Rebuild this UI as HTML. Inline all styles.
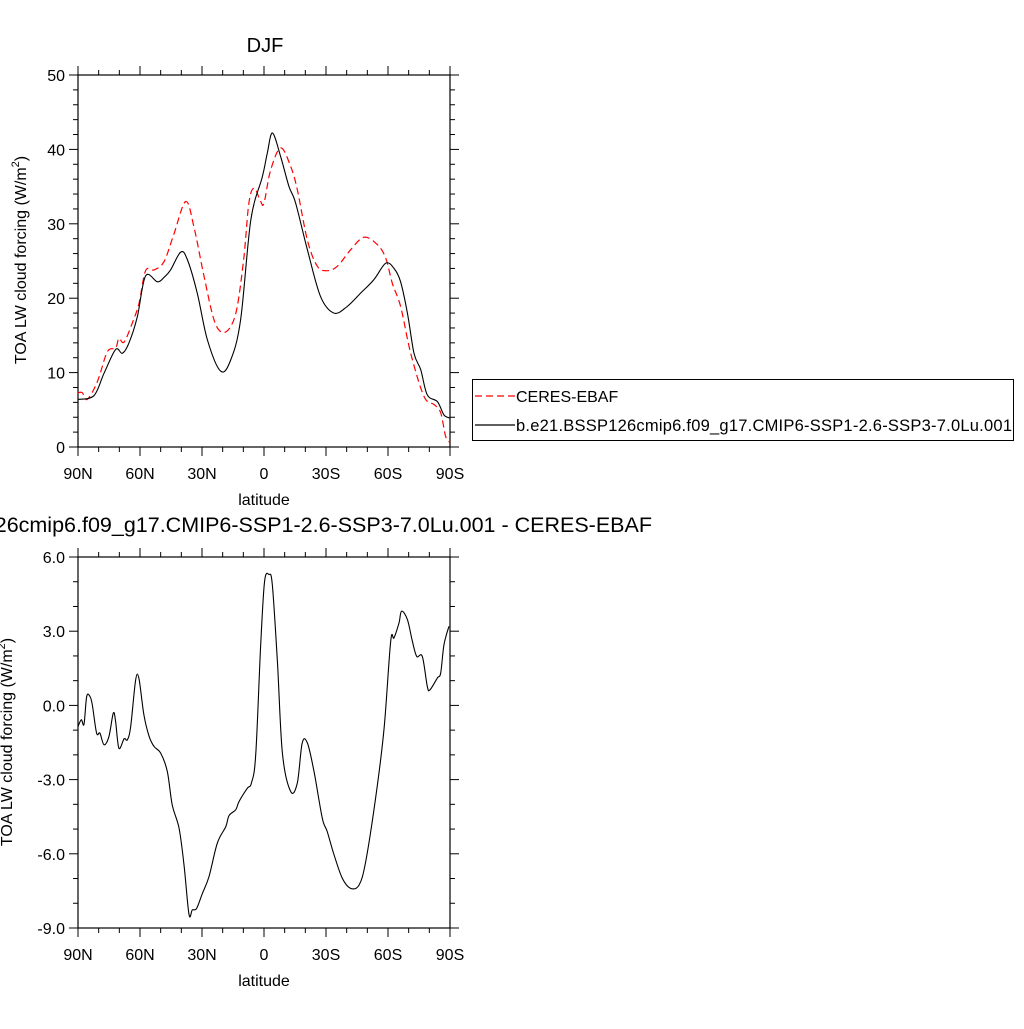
<!DOCTYPE html>
<html><head><meta charset="utf-8"><style>
body{margin:0;background:#fff;}
svg text{font-family:"Liberation Sans",sans-serif;fill:#000;}
</style></head><body>
<svg id="chart" width="1024" height="1024" viewBox="0 0 1024 1024" xmlns="http://www.w3.org/2000/svg">
<text x="265" y="52" font-size="20" text-anchor="middle">DJF</text>
<text x="652" y="532" font-size="21.5" text-anchor="end">b.e21.BSSP126cmip6.f09_g17.CMIP6-SSP1-2.6-SSP3-7.0Lu.001 - CERES-EBAF</text>
<g id="toppanel"></g>
<g id="botpanel"></g>
<g>
<rect x="472.5" y="379.5" width="541" height="61" fill="none" stroke="#000" stroke-width="1"/>
<line x1="475" y1="396" x2="515" y2="396" stroke="#f00" stroke-width="1.3" stroke-dasharray="7,4"/>
<text x="516" y="402" font-size="16">CERES-EBAF</text>
<line x1="475" y1="425" x2="515" y2="425" stroke="#000" stroke-width="1.3"/>
<text x="516" y="431" font-size="16.5" textLength="496">b.e21.BSSP126cmip6.f09_g17.CMIP6-SSP1-2.6-SSP3-7.0Lu.001</text>
</g>
</svg>
<script>
const xTickVals=[90,60,30,0,-30,-60,-90];
const xTickLabels=["90N","60N","30N","0","30S","60S","90S"];
const topYTicks=[0,10,20,30,40,50];
const botYTicks=[-9,-6,-3,0,3,6];
const botYLabels=["-9.0","-6.0","-3.0","0.0","3.0","6.0"];
const modelLat=[90,82.3,77.4,71.8,68.5,65.3,61.3,57.3,51.6,48.4,45.2,40.3,37.1,32.3,27.4,21,16.1,11.3,6.4,0.8,-1.6,-4.1,-8.1,-12.1,-15.3,-21,-27.4,-33.9,-40.3,-46.8,-53.2,-58.9,-62.9,-66.1,-69.4,-72.6,-75.8,-79,-83.9,-87.1,-90];
const modelVal=[6.4,6.9,9.9,13.1,12.6,14,17.5,23,22.2,22.8,23.8,26.2,25.2,20.7,14.4,10.2,11.7,17.1,30.5,36.3,39.5,42.2,39,35,32.8,26.5,20.2,18,18.9,20.7,22.5,24.7,24,22.2,18,12.6,10.4,7,6.1,4.3,3.9];
const obsLat=[90,87.9,85.5,80.6,75.8,71.8,70.2,67.7,63.7,60.5,57.3,53.2,48.4,43.5,37.9,33.9,29,24.2,20.2,16.1,12.9,9.7,7.3,4.8,1.6,0,-3.2,-8.1,-12.9,-16.1,-21,-25.8,-30.6,-35.5,-41.9,-48.4,-54.8,-58.9,-62.1,-66.1,-71,-77.4,-82.3,-85.5,-87.9,-90];
const obsVal=[7.3,7.3,6.4,8.8,12.8,13.3,14.6,14.1,16.7,19.3,23.7,23.8,24.9,28.7,33,29.6,22.9,17.1,15.4,16.2,18.9,25.6,32.8,34.8,33,32.8,37.2,40.2,37.7,34.6,27.8,24.3,23.7,24.3,26.5,28.2,27.2,25.4,22,18.9,12.6,6.8,5.7,4.6,1.4,0.6];
const diffLat=[90,88.4,87.1,85.8,84.2,83.1,81,79.4,77.4,75,72.9,71.8,70.2,67.7,66.1,64.5,62.1,60.5,58.1,55.6,53.2,50,46.8,44.4,41.1,38.7,36.3,34.7,32.6,29.8,26.6,22.6,18.5,16.9,13.7,12.1,8.1,6.1,4,1.6,-0.3,-2.4,-4,-6.5,-8.9,-12.9,-16.1,-18.5,-21,-24.2,-28.2,-30.6,-33.9,-37.9,-41.9,-46,-49.2,-54,-58.1,-61.3,-62.9,-65.3,-66.6,-69.4,-71.8,-73.9,-76.6,-79,-80.3,-83.9,-85.5,-87.1,-89.5];
const diffVal=[-0.85,-0.58,-0.76,0.36,0.36,0.03,-1.12,-1.12,-1.59,-1.25,-0.31,-0.65,-1.73,-1.35,-1.39,-0.85,1.04,1.08,-0.38,-1.25,-1.66,-1.93,-2.67,-4.02,-4.97,-6.45,-8.45,-8.27,-8.21,-7.6,-6.92,-5.57,-4.9,-4.45,-4.22,-3.89,-3.35,-3.14,-2,2.46,5.02,5.29,4.89,1.78,-1.93,-3.48,-3.14,-1.52,-1.52,-2.67,-4.56,-5.1,-6.05,-6.99,-7.4,-7.26,-6.32,-3.75,-0.92,2.59,2.73,3.33,3.81,3.47,2.59,1.98,1.98,0.77,0.63,1.11,1.31,2.46,3.2];

const NS="http://www.w3.org/2000/svg";
function mk(parent,tag,attrs){const e=document.createElementNS(NS,tag);for(const k in attrs)e.setAttribute(k,attrs[k]);parent.appendChild(e);return e;}
const X0=78,X1=450;
function xs(lat){return X0+(90-lat)/180*(X1-X0);}
function smoothPath(px){let d="M"+px[0][0].toFixed(1)+","+px[0][1].toFixed(1);
 for(let i=0;i<px.length-1;i++){const p0=px[i-1]||px[i],p1=px[i],p2=px[i+1],p3=px[i+2]||p2;
 const c1=[p1[0]+(p2[0]-p0[0])/6,p1[1]+(p2[1]-p0[1])/6],c2=[p2[0]-(p3[0]-p1[0])/6,p2[1]-(p3[1]-p1[1])/6];
 d+=" C"+c1[0].toFixed(1)+","+c1[1].toFixed(1)+" "+c2[0].toFixed(1)+","+c2[1].toFixed(1)+" "+p2[0].toFixed(1)+","+p2[1].toFixed(1);}
 return d;}
function panel(g,yTop,yBot,vmin,vmax,yTicks,yLabels,minorStep,yTitleX,yTitleY){
 const ys=v=>yBot-(v-vmin)/(vmax-vmin)*(yBot-yTop);
 const frame=mk(g,"rect",{x:X0,y:yTop,width:X1-X0,height:yBot-yTop,fill:"none",stroke:"#000","stroke-width":1.2});
 
 
 for(let lat=90;lat>=-90;lat-=10){const x=xs(lat),maj=lat%30===0,L=maj?9:5;
  mk(g,"line",{x1:x,y1:yBot,x2:x,y2:yBot+L,stroke:"#000","stroke-width":1});
  mk(g,"line",{x1:x,y1:yTop,x2:x,y2:yTop-L,stroke:"#000","stroke-width":1});}
 xTickVals.forEach((v,i)=>{const t=mk(g,"text",{x:xs(v),y:yBot+32,"font-size":16,"text-anchor":"middle"});t.textContent=xTickLabels[i];
  
  });
 const xt=mk(g,"text",{x:264,y:yBot+58,"font-size":16,"text-anchor":"middle"});xt.textContent="latitude";
 
 
 for(let v=vmin;v<=vmax+1e-6;v+=minorStep){const y=ys(v),maj=yTicks.some(t=>Math.abs(t-v)<1e-6),L=maj?9:5;
  mk(g,"line",{x1:X0,y1:y,x2:X0-L,y2:y,stroke:"#000","stroke-width":1});
  mk(g,"line",{x1:X1,y1:y,x2:X1+L,y2:y,stroke:"#000","stroke-width":1});}
 yTicks.forEach((v,i)=>{const t=mk(g,"text",{x:X0-13,y:ys(v)+6,"font-size":16,"text-anchor":"end"});t.textContent=yLabels[i];
  
  });
 const yt=mk(g,"text",{x:0,y:0,"font-size":16,"text-anchor":"middle",transform:"translate("+yTitleX+","+yTitleY+") rotate(-90)"});
 yt.innerHTML='TOA LW cloud forcing (W/m<tspan font-size="11" dy="-7">2</tspan><tspan dy="7">)</tspan>';
 
 
 return ys;}
const gTop=document.getElementById("toppanel"),gBot=document.getElementById("botpanel");
const ysT=panel(gTop,75,447,0,50,topYTicks,topYTicks.map(String),2,26,260);
const ysB=panel(gBot,557,928,-9,6,botYTicks,botYLabels,1,12,742);
const po=mk(gTop,"path",{d:smoothPath(obsLat.map((l,i)=>[xs(l),ysT(obsVal[i])])),fill:"none",stroke:"#f00","stroke-width":1.2,"stroke-dasharray":"7,4"});


const pm=mk(gTop,"path",{d:smoothPath(modelLat.map((l,i)=>[xs(l),ysT(modelVal[i])])),fill:"none",stroke:"#000","stroke-width":1.1});


const pd=mk(gBot,"path",{d:smoothPath(diffLat.map((l,i)=>[xs(l),ysB(diffVal[i])])),fill:"none",stroke:"#000","stroke-width":1.1});


</script>
</body></html>
